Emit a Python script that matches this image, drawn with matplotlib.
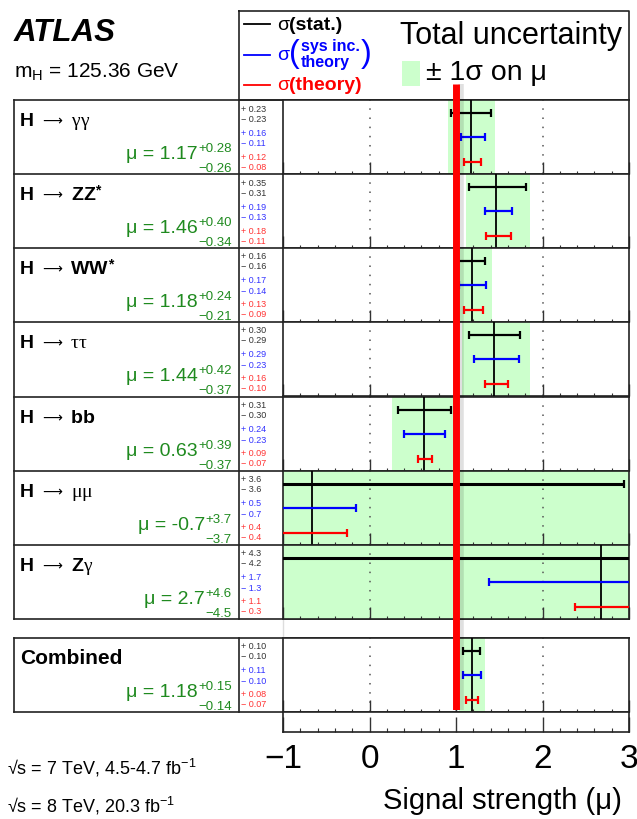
import matplotlib
matplotlib.use('Agg')
import matplotlib.pyplot as plt
from matplotlib.ticker import MultipleLocator, FixedLocator
import matplotlib.transforms as mtransforms

plt.rcParams['font.family'] = ['Liberation Sans', 'DejaVu Sans']
plt.rcParams['mathtext.fontset'] = 'custom'
plt.rcParams['mathtext.rm'] = 'Liberation Sans'
plt.rcParams['mathtext.it'] = 'Liberation Sans:italic'
plt.rcParams['mathtext.bf'] = 'Liberation Sans:bold'

# ---------------- data ----------------
products = ['γγ', 'ZZ*', 'WW*', 'ττ', 'bb', 'μμ', 'Zγ']
mu = [1.17, 1.46, 1.18, 1.44, 0.63, -0.66, 2.68]
tot_up = [0.28, 0.40, 0.24, 0.42, 0.39, 3.7, 4.6]
tot_dn = [0.26, 0.34, 0.21, 0.37, 0.37, 3.7, 4.5]
stat_up = [0.23, 0.35, 0.16, 0.30, 0.31, 3.6, 4.3]
stat_dn = [0.23, 0.31, 0.16, 0.29, 0.30, 3.6, 4.2]
sys_up = [0.16, 0.19, 0.17, 0.29, 0.24, 0.5, 1.7]
sys_dn = [0.11, 0.13, 0.14, 0.23, 0.23, 0.7, 1.3]
th_up = [0.12, 0.18, 0.13, 0.16, 0.09, 0.4, 1.1]
th_dn = [0.08, 0.11, 0.09, 0.10, 0.07, 0.4, 0.3]
decimals = [2, 2, 2, 2, 2, 1, 1]

comb_mu = 1.18
comb_tot = (0.15, 0.14)
comb_stat = (0.10, 0.10)
comb_sys = (0.11, 0.10)
comb_th = (0.08, 0.07)

sm_value = 1.0
x_ticks = [-1, 0, 1, 2, 3]

# ---------------- layout ----------------
W, H = 637, 820
fig = plt.figure(figsize=(W / 100, H / 100), dpi=100)
fig.patch.set_facecolor('white')
bg = fig.add_axes([0, 0, 1, 1])
bg.set_xlim(0, W)
bg.set_ylim(H, 0)
bg.axis('off')
renderer = fig.canvas.get_renderer()


def rect(x0, y0, x1, y1):
    return [x0 / W, 1 - y1 / H, (x1 - x0) / W, (y1 - y0) / H]


def tw(t):
    return t.get_window_extent(renderer).width


GREEN_TXT = '#1f8a1f'
BAND = '#ccffcc'
LINE_C = '#222222'
LW = 1.2

row_tops = [101, 175, 249, 323, 398, 472, 546]
row_h = 74
tab_bottom = 620
comb_top, comb_bot = 639, 713
strip_bot = 733
PX0, PX1 = 283, 629
COL1 = 239

# table lines
for y in row_tops + [tab_bottom, comb_top, comb_bot]:
    bg.plot([14, PX1], [y, y], color=LINE_C, lw=LW)
for x in [14, COL1]:
    bg.plot([x, x], [row_tops[0], tab_bottom], color=LINE_C, lw=LW)
    bg.plot([x, x], [comb_top, comb_bot], color=LINE_C, lw=LW)
bg.plot([PX0, PX0], [tab_bottom, comb_top], color='#dddddd', lw=1)
# header box
bg.plot([COL1, PX1, PX1, COL1, COL1], [12, 12, 101, 101, 12], color=LINE_C, lw=LW)

# header texts
bg.text(14, 33, 'ATLAS', fontsize=22.5, fontweight='bold', fontstyle='italic', va='center')
bg.text(14, 72, r'm$_\mathregular{H}$ = 125.36 GeV', fontsize=15, va='center')

# legend
bg.plot([244, 270], [25, 25], color='black', lw=1.3)
t = bg.text(277, 25, 'σ', fontsize=14, va='center', color='black')
bg.text(277 + tw(t), 25, '(stat.)', fontsize=14, fontweight='bold', va='center', color='black')

bg.plot([244, 270], [56, 56], color='blue', lw=1.3)
t = bg.text(277, 56, 'σ', fontsize=14, va='center', color='blue')
x = 277 + tw(t)
t = bg.text(x, 54, '(', fontsize=23, va='center', color='blue')
x2 = x + tw(t) + 1
t1 = bg.text(x2, 46, 'sys inc.', fontsize=11.5, va='center', color='blue', fontweight='bold')
bg.text(x2, 63, 'theory', fontsize=11.5, va='center', color='blue', fontweight='bold')
bg.text(x2 + tw(t1) + 1, 54, ')', fontsize=23, va='center', color='blue')

bg.plot([244, 270], [86, 86], color='red', lw=1.3)
t = bg.text(277, 86, 'σ', fontsize=14, va='center', color='red')
bg.text(277 + tw(t), 86, '(theory)', fontsize=14, fontweight='bold', va='center', color='red')

bg.text(400, 36, 'Total uncertainty', fontsize=22, va='center')
bg.add_patch(plt.Rectangle((402, 62), 18, 25, color=BAND, lw=0))
bg.text(426, 73, '± 1σ on μ', fontsize=20.5, va='center')

# bottom left texts
bg.text(7, 768, r'√s = 7 TeV, 4.5-4.7 fb$^\mathregular{-1}$', fontsize=13, va='center')
bg.text(7, 806, r'√s = 8 TeV, 20.3 fb$^\mathregular{-1}$', fontsize=13, va='center')


def fmt(v, d):
    return ('%.' + str(d) + 'f') % v


def label_block(top, prod, m, up, dn, sup, sdn, yup, ydn, tup, tdn, d, combined=False):
    # decay label
    if combined:
        bg.text(20, top + 25, 'Combined', fontsize=15, fontweight='bold', va='baseline')
    else:
        bg.text(20, top + 25, 'H', fontsize=14, fontweight='bold', va='baseline')
        bg.text(42, top + 20, '⟶', fontsize=10, va='center', family=['DejaVu Sans'])
        x = 71
        for ch in prod:
            if ch == '*':
                t = bg.text(x, top + 19, ch, fontsize=10, fontweight='bold', va='baseline')
            else:
                bold = ch in 'ZWb'
                fam = ['Liberation Sans', 'DejaVu Sans'] if bold else ['Liberation Serif', 'DejaVu Serif']
                t = bg.text(x, top + 25, ch, fontsize=14,
                            fontweight='bold' if bold else 'normal', family=fam, va='baseline')
            x += tw(t)
    # mu value
    s1 = bg.text(232, top + 51, '+' + fmt(up, d), fontsize=9.5, ha='right',
                 va='baseline', color=GREEN_TXT)
    s2 = bg.text(232, top + 71, '−' + fmt(dn, d), fontsize=9.5, ha='right',
                 va='baseline', color=GREEN_TXT)
    w = max(tw(s1), tw(s2))
    bg.text(232 - w - 1, top + 58, 'μ = ' + fmt(m, d), fontsize=14, ha='right', va='baseline',
            color=GREEN_TXT)
    # numbers column
    items = [('+ ', sup, '#333333'), ('− ', sdn, '#333333'),
             ('+ ', yup, '#3333ff'), ('− ', ydn, '#3333ff'),
             ('+ ', tup, '#ff3333'), ('− ', tdn, '#ff3333')]
    offs = [8, 18, 32, 43, 56, 66]
    for (sg, v, c), o in zip(items, offs):
        bg.text(241, top + o, sg + fmt(v, d), fontsize=6.5, color=c, va='center')


def plot_row(top, bottom, m, tot, stat, sysu, th):
    ax = fig.add_axes(rect(PX0, top, PX1, bottom))
    ax.set_zorder(2)
    ax.set_xlim(x_ticks[0], x_ticks[-1])
    ax.set_ylim(0, 1)
    ax.axvspan(m - tot[1], m + tot[0], color=BAND, lw=0, zorder=0)
    for xv in [0, 1, 2]:
        ax.axvline(xv, color='#555555', lw=1.1, ls=(0, (1, 5)), zorder=1)
    ax.axvline(m, color='black', lw=1.3, zorder=3)
    stat_lw = 2.2 if (stat[0] + stat[1]) > 4 else 1.6
    for (e, yy, c, lw) in [(stat, 0.83, 'black', stat_lw), (sysu, 0.5, 'blue', 1.6),
                           (th, 0.16, 'red', 1.6)]:
        ax.errorbar([m], [yy], xerr=[[e[1]], [e[0]]], fmt='none', ecolor=c,
                    elinewidth=lw, capsize=3, capthick=1.6, zorder=4)
    ax.xaxis.set_major_locator(FixedLocator(x_ticks))
    ax.xaxis.set_minor_locator(MultipleLocator(0.2))
    ax.tick_params(which='both', direction='in', bottom=True, top=False, left=False,
                   labelbottom=False, labelleft=False, color='#333333')
    ax.tick_params(which='major', length=8.5, width=1.0)
    ax.tick_params(which='minor', length=2.5, width=0.8)
    ax.set_yticks([])
    for s in ax.spines.values():
        s.set_color(LINE_C)
        s.set_linewidth(LW)
    return ax


for i in range(len(products)):
    top = row_tops[i]
    label_block(top, products[i], mu[i], tot_up[i], tot_dn[i], stat_up[i], stat_dn[i],
                sys_up[i], sys_dn[i], th_up[i], th_dn[i], decimals[i])
    plot_row(top, top + row_h, mu[i], (tot_up[i], tot_dn[i]), (stat_up[i], stat_dn[i]),
             (sys_up[i], sys_dn[i]), (th_up[i], th_dn[i]))

label_block(comb_top, '', comb_mu, comb_tot[0], comb_tot[1], comb_stat[0], comb_stat[1],
            comb_sys[0], comb_sys[1], comb_th[0], comb_th[1], 2, combined=True)
plot_row(comb_top, comb_bot, comb_mu, comb_tot, comb_stat, comb_sys, comb_th)

# axis strip
axs = fig.add_axes(rect(PX0, comb_bot, PX1, strip_bot))
axs.set_zorder(2)
axs.set_xlim(x_ticks[0], x_ticks[-1])
axs.set_ylim(0, 1)
axs.xaxis.set_major_locator(FixedLocator(x_ticks))
axs.xaxis.set_minor_locator(MultipleLocator(0.2))
axs.tick_params(which='both', direction='in', bottom=True, top=False, left=False,
                labelleft=False, color='#333333')
axs.tick_params(which='major', length=10.5, width=1.0, labelsize=24, pad=8)
axs.tick_params(which='minor', length=3, width=0.8)
axs.set_yticks([])
for s in axs.spines.values():
    s.set_color(LINE_C)
    s.set_linewidth(LW)
axs.set_xlabel('Signal strength (μ)', fontsize=21, ha='right')
axs.xaxis.set_label_coords((622 - PX0) / (PX1 - PX0), -(787 - strip_bot) / (strip_bot - comb_bot))

# SM line
axr = fig.add_axes(rect(PX0, 85, PX1, 711))
axr.set_zorder(6)
axr.patch.set_alpha(0)
axr.axis('off')
axr.set_xlim(x_ticks[0], x_ticks[-1])
axr.set_ylim(0, 1)
off = mtransforms.offset_copy(axr.transData, fig=fig, x=5, y=0, units='dots')
axr.plot([sm_value, sm_value], [0, 1], color='black', alpha=0.12, lw=4, transform=off,
         solid_capstyle='butt')
axr.plot([sm_value, sm_value], [0, 1], color='red', lw=5, solid_capstyle='butt')

fig.savefig('out.png', dpi=100)
